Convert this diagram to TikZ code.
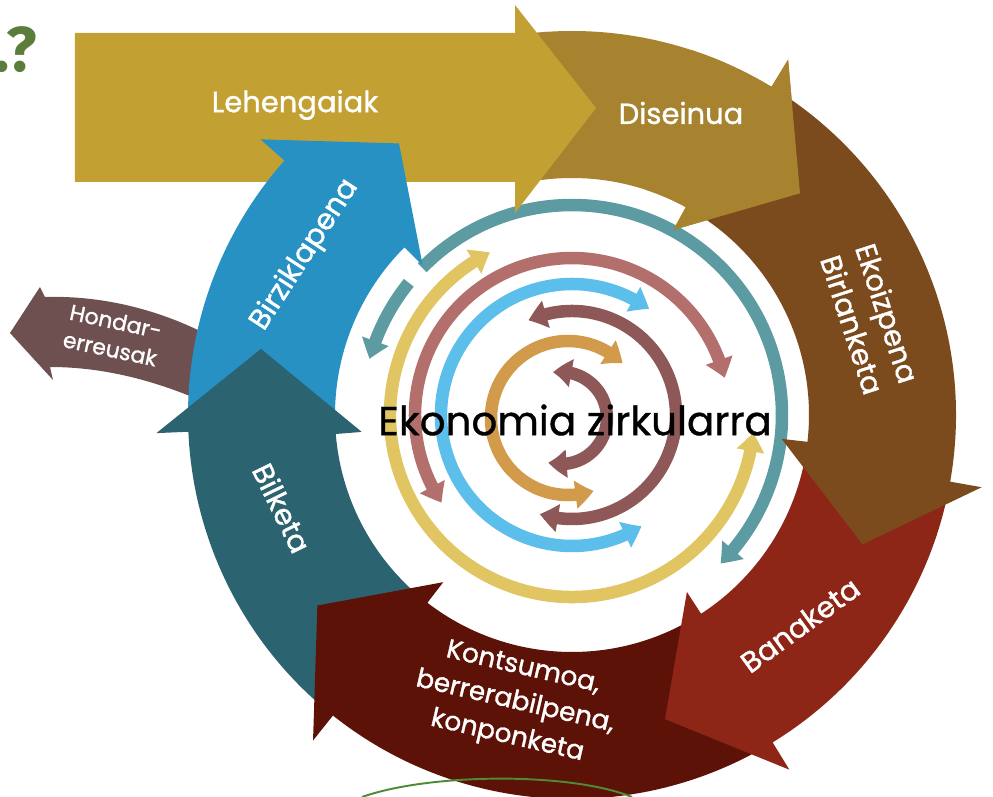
\documentclass[tikz,border=0pt]{standalone}
\usepackage{fontspec}
\setmainfont{Poppins}
\newfontfamily\etiketafont{Poppins}[FakeBold=1.2]
\newfontfamily\erdifont{Poppins}[FakeBold=0.9]
\newfontfamily\galderafont{Fira Sans}
\usetikzlibrary{arrows.meta,bending}

\definecolor{lehengai}{HTML}{C2A032}
\definecolor{diseinu}{HTML}{A8832F}
\definecolor{ekoizpen}{HTML}{7B4A1D}
\definecolor{banaketa}{HTML}{8E2618}
\definecolor{kontsumo}{HTML}{5C1207}
\definecolor{bilketa}{HTML}{2B6470}
\definecolor{birzikla}{HTML}{2791C3}
\definecolor{hondar}{HTML}{6E5051}
\definecolor{eraztunurdin}{HTML}{5B9BA1}
\definecolor{eraztunhori}{HTML}{E2C563}
\definecolor{arrosa}{HTML}{B36F6C}
\definecolor{urdinargi}{HTML}{5CBEEA}
\definecolor{malba}{HTML}{8D5857}
\definecolor{laranja}{HTML}{D29A4B}
\definecolor{berdea}{HTML}{5A7D3B}

\begin{document}
\begin{tikzpicture}[x=0.02cm, y=0.02cm,
        % testuak
        lbl/.style={text=white, font=\etiketafont\fontsize{16.5}{21}\selectfont, align=center, inner sep=0pt},
        lblsmall/.style={lbl, font=\etiketafont\fontsize{15}{20}\selectfont},
        % barruko gezi biribilak
        biribil/.style={draw=#1, line width=0.25cm},
        burua/.style={-{Triangle[width=0.54cm,length=0.37cm,bend]}},
        biburu/.style={{Triangle[width=0.54cm,length=0.37cm,bend]}-{Triangle[width=0.54cm,length=0.37cm,bend]}}
    ]
    \fill[white] (-572,-382) rectangle (421,415);
    \useasboundingbox (-572,-382) rectangle (421,415);

    % Barruko geziak
    \draw[biribil=eraztunurdin, burua] (141:210) arc[start angle=141, end angle=164.5, radius=210];
    \draw[biribil=eraztunurdin, burua] (135.5:210) arc[start angle=135.5, end angle=-45, radius=210];
    \draw[biribil=eraztunhori, biburu] (116.8:182) arc[start angle=116.8, end angle=354.4, radius=182];
    \draw[biribil=arrosa, biburu] (213.9:157) arc[start angle=213.9, end angle=13.7, radius=157];
    \draw[biribil=urdinargi, biburu] (54:131) arc[start angle=54, end angle=302, radius=131];
    \draw[biribil=malba, biburu] (114.7:104) arc[start angle=114.7, end angle=-108, radius=104];
    \draw[biribil=laranja, biburu] ([shift={(-4,-3)}]45:77) arc[start angle=45, end angle=289.4, radius=77];
    \draw[biribil=malba, biburu] ([shift={(-11,-3)}]100:46) arc[start angle=100, end angle=-106, radius=46];

    % Kanpoko geziak
    \fill[diseinu] (100:384) arc[start angle=100, end angle=58.7, radius=384] -- (58.7:416) -- (44.2:318)
        -- (61.3:211) -- (61.3:237) arc[start angle=61.3, end angle=100, radius=237] -- cycle;
    \fill[lehengai] (-497,382) -- (-57,382) -- (-57,410) -- (24,307) -- (-57,202) -- (-57,233) -- (-497,233) -- cycle;
    \fill[hondar] (-562,82) -- (-532,128) -- (-527,118) .. controls (-460,120) and (-390,100) .. (-330,60)
        -- (-340,0) .. controls (-400,30) and (-460,48) .. (-522,48) -- (-519,35) -- cycle;
    \fill[birzikla] (-178.5:384) arc[start angle=-178.5, end angle=-221.5, radius=384] -- (-221.5:416) -- (-237.5:322)
        -- (-225:211) -- (-225:237) arc[start angle=-225, end angle=-178.5, radius=237] -- cycle;
    \fill[bilketa] (-130.5:384) arc[start angle=-130.5, end angle=-177.5, radius=384] -- (-177.5:416) -- (-192:318)
        -- (-175.4:211) -- (-175.4:237) arc[start angle=-175.4, end angle=-130.5, radius=237] -- cycle;
    \fill[kontsumo] (-59.5:384) arc[start angle=-59.5, end angle=-128.5, radius=384] -- (-128.5:416) -- (-143.2:318)
        -- (-127.6:211) -- (-127.6:237) arc[start angle=-127.6, end angle=-59.5, radius=237] -- cycle;
    \fill[banaketa] (-10.5:384) arc[start angle=-10.5, end angle=-58.5, radius=384] -- (-58.5:416) -- (-73:318)
        -- (-57:211) -- (-57:237) arc[start angle=-57, end angle=-10.5, radius=237] -- cycle;
    \fill[ekoizpen] (59:384) arc[start angle=59, end angle=-10, radius=384] -- (-10:416) -- (-24:318)
        -- (-6.5:211) -- (-6.5:237) arc[start angle=-6.5, end angle=59, radius=237] -- cycle;
    % Diseinuaren burua, Ekoizpenaren gainean
    \fill[diseinu] (72:384) arc[start angle=72, end angle=58.7, radius=384] -- (58.7:416) -- (44.2:318)
        -- (61.3:211) -- (61.3:237) arc[start angle=61.3, end angle=72, radius=237] -- cycle;

    % Beheko marra berdea
    \draw[berdea!90!green, line width=1.1pt] (-210,-382) .. controls (-142,-358) and (-2,-357) .. (60,-382);

    % Testuak
    \node[lbl] (lehen) at (-277,310) {Lehengaiak};
    \node[lbl] (dise) at (109,302) {Diseinua};
    \node[lbl, rotate=-72] (ekoiz) at (298,96) {Ekoizpena\\Birlanketa};
    \node[lbl, rotate=36] (banak) at (228,-210) {Banaketa};
    \node[lblsmall, rotate=-13] (kontsu) at (-57,-288) {Kontsumoa,\\berrerabilpena,\\konponketa};
    \node[lbl, rotate=-64] (bilk) at (-290,-93) {Bilketa};
    \node[lbl, rotate=57] (birzik) at (-267,160) {Birziklapena};
    \node[lbl, font=\etiketafont\fontsize{12.5}{16}\selectfont, rotate=-12] (hondarl) at (-459,80) {Hondar-\\erreusak};
    \node[font=\erdifont\fontsize{23}{26}\selectfont, inner sep=0pt] (ekonomia) at (3,-5) {Ekonomia zirkularra};
    \node[text=berdea, font=\galderafont\bfseries\fontsize{36}{40}\selectfont, anchor=base east, inner sep=0pt] (galdera) at (-535,343) {.?};

\end{tikzpicture}
\end{document}
